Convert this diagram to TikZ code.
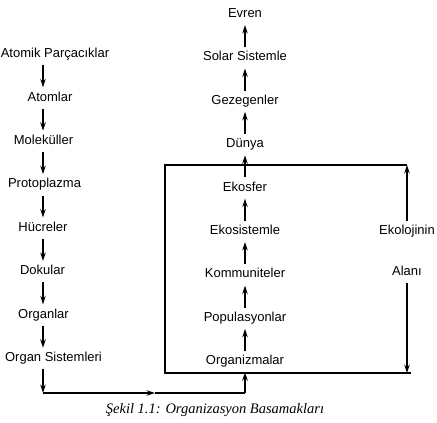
\documentclass[tikz,border=0pt]{standalone}
\usepackage{fontspec}
\newfontfamily\labelfont{Liberation Sans}
\newfontfamily\captionfont{Liberation Serif}
\usetikzlibrary{arrows.meta}
\tikzset{
	stagenode/.style={font=\labelfont\fontsize{13}{15}\selectfont, anchor=base, inner sep=3pt, text height=10.5pt, text depth=4.5pt},
	link/.style={-{Stealth[length=8.5pt,width=5.5pt,inset=3pt]}, line width=1.2pt},
	frame/.style={line width=1.2pt}
}
\begin{document}
\begin{tikzpicture}[x=1pt,y=-1pt]
	\useasboundingbox (0,0) rectangle (437,423);
	% level labels (x position / text)
	\def\smallLevels {55/Atomik Parçacıklar, 50/Atomlar, 43.5/Moleküller, 44.5/Protoplazma, 43/Hücreler, 42.5/Dokular, 43.5/Organlar, 53.5/Organ Sistemleri};
	\def\bigLevels {Organizmalar, Populasyonlar, Kommuniteler, Ekosistemle, Ekosfer, Dünya, Gezegenler, Solar Sistemle, Evren};
	% spacing
	\def\levelGap {43.4};
	% left column, going down
	\foreach \xpos/\label [count=\index] in \smallLevels
	{
		\node[stagenode] (small_\index) at ({\xpos}, {57.6+(\index-1)*\levelGap}) {\label};
	}
	% right column, going up
	\foreach \label [count=\index] in \bigLevels
	{
		\node[stagenode] (big_\index) at (245, {364.6-(\index-1)*\levelGap}) {\label};
	}
	% turning points
	\coordinate (spine) at (43,0);
	\coordinate (turn_left) at (43,393);
	\coordinate (turn_mid) at (155,393);
	\coordinate (turn_right) at (245,393);
	% left arrows
	\foreach \current in {1,...,7}
	{
		\pgfmathtruncatemacro{\next}{\current+1};
		\draw[link] (small_\current.south -| spine) -- (small_\next.north -| spine);
	}
	% right arrows
	\foreach \current in {1,...,8}
	{
		\pgfmathtruncatemacro{\next}{\current+1};
		\draw[link] (big_\current) -- (big_\next);
	}
	% crossing over
	\draw[link] (small_8.south -| spine) -- (turn_left);
	\draw[link] (turn_left) -- (turn_mid);
	\draw[frame] (turn_mid) -- (turn_right);
	\draw[link] (turn_right) -- (big_1);
	% ecology frame
	\coordinate (box_nw) at (165,165);
	\coordinate (box_ne) at (407,165);
	\coordinate (box_sw) at (165,373);
	\coordinate (box_se) at (411,373);
	\draw[frame] (box_ne) -- (box_nw) -- (box_sw) -- (box_se);
	\node[stagenode] (domain_top) at (407,234.6) {Ekolojinin};
	\node[stagenode] (domain_bottom) at (407,275.6) {Alanı};
	\draw[link] (domain_top) -- (domain_top |- box_ne);
	\draw[link] (domain_bottom) -- (domain_bottom |- box_sw);
	% caption
	\node[font=\captionfont\itshape\fontsize{14.5}{16}\selectfont] (caption) at (215,410) {Şekil 1.1: Organizasyon Basamakları};
\end{tikzpicture}
\end{document}
